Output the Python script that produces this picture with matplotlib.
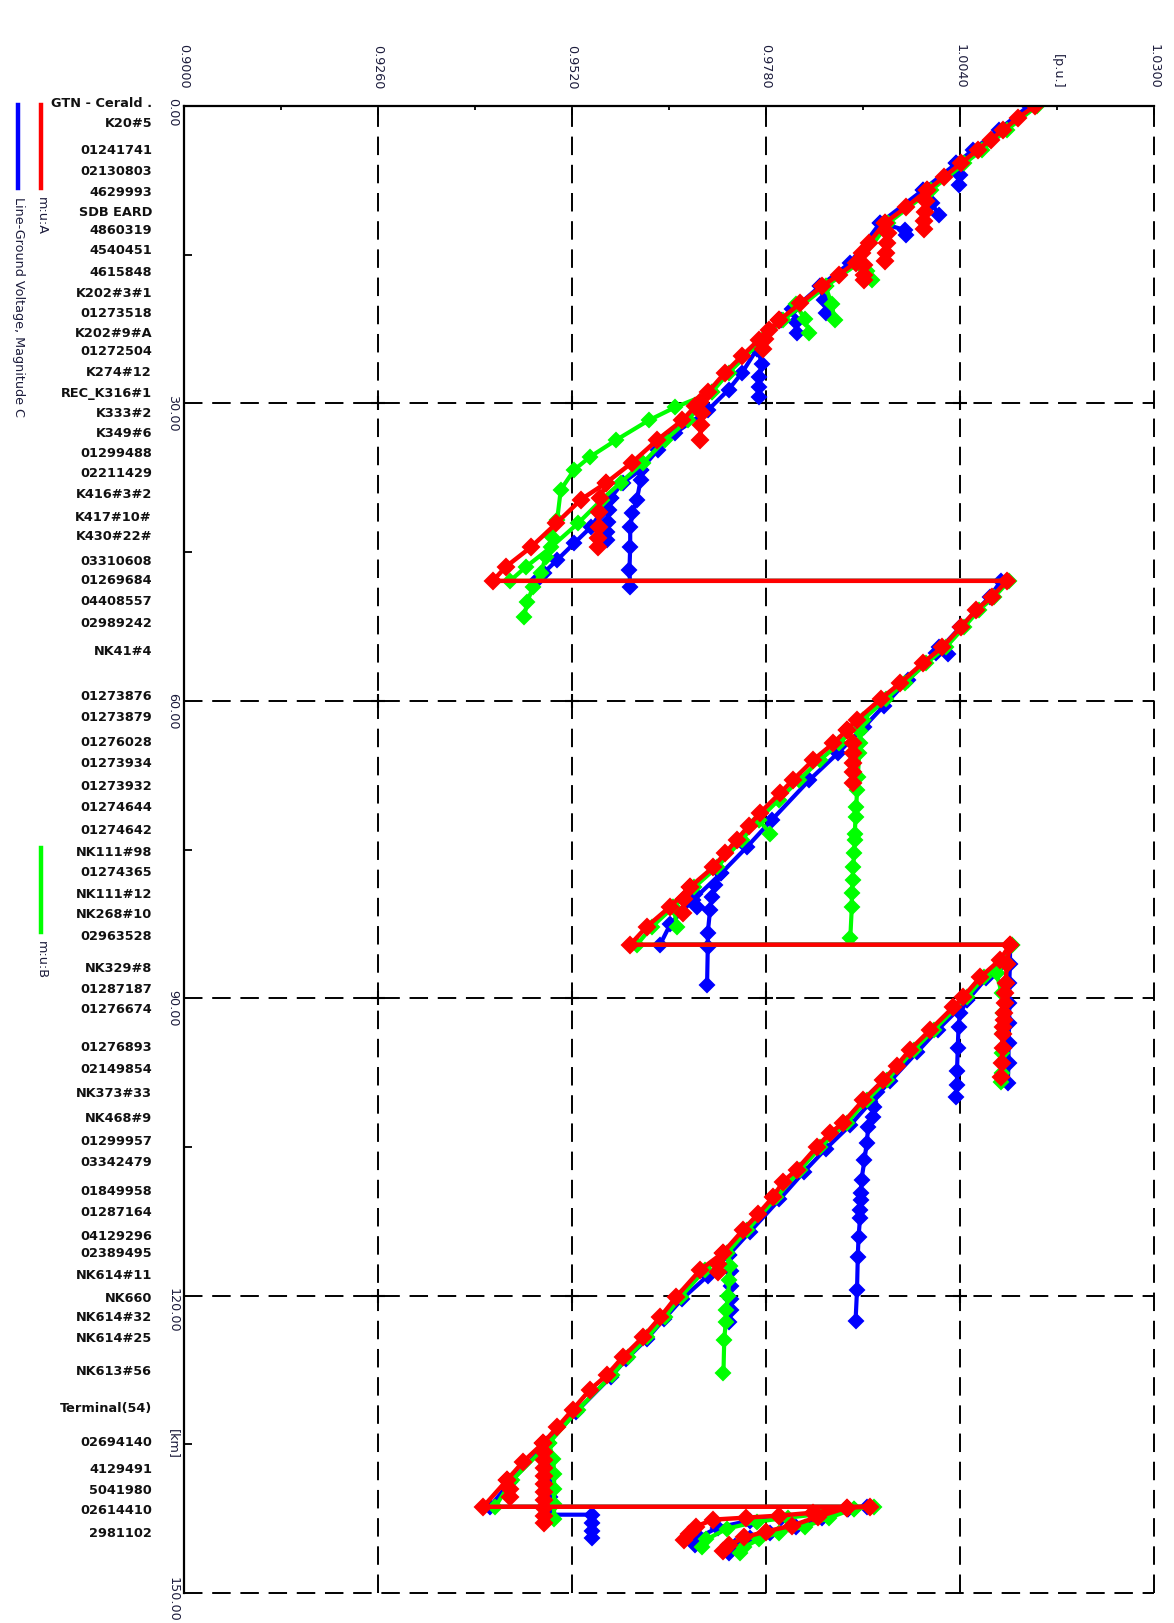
#!/usr/bin/env python3
"""
Feeder voltage profile (rotated layout): line-ground voltage per phase
against distance from the substation, with node names down the left side.
"""

import numpy as np
import matplotlib
matplotlib.use('Agg')
import matplotlib.pyplot as plt
from matplotlib.lines import Line2D


# ============================================================
# Data: trunk per phase (km, p.u.), regulators show as repeated km
# ============================================================
a_km = [0.0, 1.2, 2.4, 3.4, 4.4, 5.8, 7.2, 8.5, 10.2, 11.8, 13.8, 15.8, 17.0, 18.2, 19.9,
        21.6, 23.6, 25.2, 26.9, 28.9, 30.3, 31.7, 33.7, 36.0, 38.0, 39.7, 42.1, 44.5, 46.5, 47.9,
        47.9, 49.5, 50.8, 52.6, 54.6, 56.2, 58.2, 59.8, 61.9, 62.9, 64.3, 66.0, 68.0, 69.3, 71.3,
        72.6, 74.0, 75.4, 76.8, 78.8, 80.8, 82.8, 84.6,
        84.6, 86.1, 87.9, 89.9, 90.9, 93.2, 95.2, 96.8, 98.3, 100.3, 102.6, 103.6, 105.0, 107.3,
        108.5, 110.1, 111.8, 113.4, 115.7, 117.4, 120.1, 122.2, 124.2, 126.2, 128.0, 129.5, 131.5,
        133.3, 134.9, 136.8, 138.6, 141.3,
        141.3, 141.4, 141.9, 142.2, 142.4, 142.6, 143.3, 144.0, 144.7]
a_pu = [1.0140, 1.0118, 1.0098, 1.0081, 1.0064, 1.0041, 1.0018, 0.9996, 0.9968, 0.9939, 0.9918,
        0.9900, 0.9878, 0.9855, 0.9826, 0.9798, 0.9770, 0.9748, 0.9725, 0.9702, 0.9685, 0.9668,
        0.9634, 0.9600, 0.9566, 0.9532, 0.9499, 0.9465, 0.9431, 0.9414,
        1.0103, 1.0083, 1.0062, 1.0041, 1.0016, 0.9990, 0.9960, 0.9934, 0.9902, 0.9889, 0.9870,
        0.9843, 0.9816, 0.9799, 0.9772, 0.9757, 0.9741, 0.9725, 0.9709, 0.9678, 0.9651, 0.9620, 0.9598,
        1.0107, 1.0094, 1.0067, 1.0044, 1.0031, 1.0000, 0.9973, 0.9955, 0.9937, 0.9910, 0.9883,
        0.9866, 0.9848, 0.9821, 0.9803, 0.9789, 0.9769, 0.9749, 0.9722, 0.9692, 0.9660, 0.9638,
        0.9615, 0.9588, 0.9567, 0.9544, 0.9521, 0.9500, 0.9481, 0.9454, 0.9433, 0.9401,
        0.9919, 0.9888, 0.9843, 0.9797, 0.9753, 0.9709, 0.9686, 0.9677, 0.9670]

b_km = [0.0, 2.4, 4.4, 5.8, 8.5, 11.8, 15.8, 18.2, 21.6, 23.6, 26.9, 28.9, 31.7, 33.7, 36.0,
        38.0, 39.7, 42.1, 44.5, 46.5, 47.9,
        47.9, 49.5, 50.8, 52.6, 54.6, 56.2, 58.2, 59.8, 61.9, 64.3, 66.0, 68.0, 70.0, 72.0, 74.0,
        76.8, 78.8, 80.8, 82.8, 84.6,
        84.6, 86.1, 87.9, 89.9, 93.2, 95.2, 98.3, 100.3, 102.6, 105.0, 107.3, 110.1, 113.4, 115.7,
        117.4, 120.1, 122.2, 124.2, 126.2, 128.0, 131.5, 134.9, 138.6, 141.3,
        141.3, 141.5, 142.0, 142.4, 142.8, 143.5, 144.6, 145.4]
b_pu = [1.0143, 1.0103, 1.0070, 1.0046, 1.0001, 0.9944, 0.9905, 0.9860, 0.9803, 0.9775, 0.9730,
        0.9707, 0.9675, 0.9645, 0.9615, 0.9585, 0.9560, 0.9528, 0.9492, 0.9458, 0.9437,
        1.0106, 1.0086, 1.0066, 1.0045, 1.0021, 0.9995, 0.9966, 0.9941, 0.9910, 0.9878, 0.9852,
        0.9824, 0.9797, 0.9770, 0.9748, 0.9714, 0.9684, 0.9656, 0.9627, 0.9607,
        1.0110, 1.0099, 1.0072, 1.0049, 1.0005, 0.9978, 0.9942, 0.9915, 0.9888, 0.9853, 0.9826,
        0.9794, 0.9755, 0.9728, 0.9698, 0.9666, 0.9644, 0.9621, 0.9595, 0.9574, 0.9528, 0.9489,
        0.9440, 0.9417,
        0.9925, 0.9898, 0.9855, 0.9810, 0.9768, 0.9728, 0.9700, 0.9694]

c_km = [0.0, 2.4, 4.4, 5.8, 8.5, 11.8, 15.8, 18.2, 21.6, 24.5, 26.9, 28.6, 30.7, 33.0, 34.7,
        36.7, 38.0, 39.5, 41.1, 42.5, 44.1, 45.8, 47.1, 47.9,
        47.9, 49.5, 52.6, 55.2, 57.9, 60.5, 62.6, 65.3, 68.0, 72.0, 74.7, 77.4, 80.1, 82.5, 84.6,
        84.6, 86.3, 88.0, 90.2, 93.2, 95.4, 98.4, 100.5, 102.8, 105.2, 107.5, 110.3, 113.6, 115.9,
        118.0, 120.3, 122.4, 124.4, 126.4, 128.2, 131.7, 135.0, 138.8, 141.3,
        141.3, 141.5, 142.0, 142.4, 142.7, 143.4, 144.4, 145.2]
c_pu = [1.0132, 1.0092, 1.0058, 1.0035, 0.9990, 0.9933, 0.9893, 0.9852, 0.9800, 0.9768, 0.9748,
        0.9730, 0.9702, 0.9658, 0.9635, 0.9612, 0.9588, 0.9572, 0.9558, 0.9545, 0.9523, 0.9500,
        0.9482, 0.9472,
        1.0095, 1.0080, 1.0040, 1.0008, 0.9970, 0.9938, 0.9912, 0.9876, 0.9838, 0.9788, 0.9755,
        0.9720, 0.9682, 0.9652, 0.9638,
        1.0107, 1.0096, 1.0075, 1.0050, 1.0010, 0.9983, 0.9946, 0.9920, 0.9893, 0.9860, 0.9831,
        0.9798, 0.9758, 0.9730, 0.9702, 0.9668, 0.9643, 0.9620, 0.9593, 0.9572, 0.9526, 0.9486,
        0.9437, 0.9410,
        0.9915, 0.9890, 0.9845, 0.9800, 0.9758, 0.9715, 0.9690, 0.9685]

# laterals: (km, p.u.) starting from a trunk node
a_spurs = [
    ([8.5, 9.6, 10.7, 11.6, 12.4], [0.9996, 0.9994, 0.9993, 0.9992, 0.9992]),
    ([11.8, 12.8, 13.8, 14.8, 15.6], [0.9939, 0.9943, 0.9942, 0.9941, 0.9940]),
    ([14.8, 16.0, 17.0, 17.6], [0.9909, 0.9911, 0.9911, 0.9911]),
    ([21.6, 22.6, 23.5, 24.5], [0.9798, 0.9784, 0.9778, 0.9776]),
    ([29.9, 31.0, 32.2, 33.7], [0.9691, 0.9694, 0.9693, 0.9692]),
    ([38.0, 39.5, 41.0, 42.5, 43.6, 44.5], [0.9566, 0.9558, 0.9556, 0.9556, 0.9555, 0.9555]),
    ([62.9, 64.3, 65.3, 66.3, 67.2, 68.3], [0.9889, 0.9897, 0.9897, 0.9897, 0.9897, 0.9896]),
    ([78.8, 80.0, 81.4], [0.9678, 0.9670, 0.9669]),
    ([84.6, 86.5, 88.5, 89.5, 90.5, 91.5, 92.2, 92.9, 93.6, 95.0, 96.5, 97.9],
     [1.0107, 1.0103, 1.0101, 1.0100, 1.0100, 1.0099, 1.0099, 1.0098, 1.0098, 1.0097, 1.0096, 1.0095]),
    ([115.7, 116.8, 117.6], [0.9722, 0.9716, 0.9716]),
    ([134.9, 135.8, 136.6, 137.4, 138.2, 139.0, 139.8, 140.6, 141.4, 142.2, 142.9],
     [0.9481, 0.9483, 0.9483, 0.9483, 0.9483, 0.9483, 0.9483, 0.9483, 0.9483, 0.9483, 0.9483]),
    ([138.6, 139.5, 140.3], [0.9433, 0.9437, 0.9437]),
    ([141.4, 142.3, 143.2, 143.8, 144.4, 145.2, 145.8], [0.9888, 0.9850, 0.9815, 0.9780, 0.9750, 0.9730, 0.9722]),
]

b_spurs = [
    ([15.8, 16.6, 17.6], [0.9905, 0.9915, 0.9922]),
    ([18.2, 20.0, 21.6], [0.9860, 0.9868, 0.9872]),
    ([20.0, 21.5, 22.9], [0.9820, 0.9832, 0.9838]),
    ([28.9, 30.4, 31.7, 33.7, 35.4, 36.7, 38.7, 41.8, 43.5, 45.5, 47.1, 48.5, 50.0, 51.5],
     [0.9707, 0.9658, 0.9623, 0.9579, 0.9544, 0.9523, 0.9505, 0.9500, 0.9493, 0.9485, 0.9478,
      0.9468, 0.9460, 0.9456]),
    ([61.9, 63.0, 64.3, 65.3, 67.7, 69.0, 70.7, 71.7, 73.4, 74.0, 75.4, 76.8, 78.1, 79.4, 80.8, 83.9],
     [0.9910, 0.9906, 0.9906, 0.9905, 0.9903, 0.9902, 0.9901, 0.9900, 0.9899, 0.9899, 0.9898,
      0.9897, 0.9896, 0.9895, 0.9895, 0.9893]),
    ([72.0, 73.4], [0.9770, 0.9786]),
    ([80.8, 82.8], [0.9656, 0.9661]),
    ([84.6, 86.3, 87.5, 89.5, 91.5, 93.5, 95.5, 97.5, 98.5],
     [1.0110, 1.0095, 1.0089, 1.0096, 1.0097, 1.0097, 1.0096, 1.0096, 1.0095]),
    ([115.7, 117.0, 118.4, 120.0, 121.5, 122.7, 124.5, 127.8],
     [0.9728, 0.9732, 0.9731, 0.9729, 0.9727, 0.9726, 0.9724, 0.9723]),
    ([134.9, 136.5, 138.0, 139.5, 141.0, 142.5], [0.9489, 0.9495, 0.9496, 0.9496, 0.9496, 0.9496]),
    ([141.5, 142.4, 143.3, 143.9, 144.6, 145.4, 146.0], [0.9898, 0.9865, 0.9832, 0.9797, 0.9770, 0.9750, 0.9745]),
]

c_spurs = [
    ([5.8, 7.0, 8.0], [1.0035, 1.0040, 1.0038]),
    ([8.5, 9.8, 11.0], [0.9990, 1.0002, 1.0012]),
    ([11.8, 12.5, 13.0], [0.9933, 0.9966, 0.9968]),
    ([18.2, 19.6, 20.9], [0.9852, 0.9858, 0.9860]),
    ([20.5, 21.8, 22.9], [0.9815, 0.9820, 0.9822]),
    ([24.5, 26.0, 27.3, 28.3, 29.4], [0.9768, 0.9775, 0.9771, 0.9770, 0.9770]),
    ([36.7, 37.7, 39.7, 41.1, 42.5, 44.5, 46.8, 48.5],
     [0.9612, 0.9612, 0.9607, 0.9601, 0.9598, 0.9598, 0.9597, 0.9598]),
    ([39.5, 40.8, 42.0, 43.0, 43.8], [0.9572, 0.9570, 0.9568, 0.9567, 0.9567]),
    ([54.6, 55.3], [1.0012, 1.0024]),
    ([77.4, 78.6, 79.8, 81.1, 83.4, 84.8, 88.7], [0.9720, 0.9712, 0.9707, 0.9705, 0.9702, 0.9702, 0.9701]),
    ([79.5, 80.8], [0.9685, 0.9688]),
    ([84.6, 86.5, 88.5, 90.5, 92.5, 94.5, 96.5, 98.6],
     [1.0107, 1.0107, 1.0106, 1.0106, 1.0106, 1.0105, 1.0105, 1.0104]),
    ([90.2, 91.5, 92.9, 95.0, 97.3, 98.8, 100.0], [1.0050, 1.0040, 1.0038, 1.0037, 1.0036, 1.0036, 1.0035]),
    ([99.5, 101.0, 102.0, 103.0, 104.6, 106.3, 108.3, 109.7, 110.4, 111.4, 112.2, 114.1, 116.1, 119.4, 122.6],
     [0.9929, 0.9925, 0.9923, 0.9917, 0.9915, 0.9912, 0.9908, 0.9907, 0.9907, 0.9906, 0.9906,
      0.9904, 0.9903, 0.9902, 0.9900]),
    ([115.9, 117.5, 119.0, 120.3, 121.5, 122.7], [0.9730, 0.9733, 0.9733, 0.9733, 0.9733, 0.9731]),
    ([135.0, 136.5, 138.3, 140.3, 142.1, 142.1, 142.9, 143.7, 144.5],
     [0.9486, 0.9490, 0.9490, 0.9490, 0.9490, 0.9547, 0.9547, 0.9547, 0.9547]),
    ([141.5, 142.4, 143.3, 143.9, 144.5, 145.3, 146.0], [0.9890, 0.9855, 0.9820, 0.9786, 0.9758, 0.9738, 0.9730]),
]

# node names and their distance [km]
node_names = ['GTN - Cerald .', 'K20#5', '01241741', '02130803', '4629993', 'SDB EARD',
              '4860319', '4540451', '4615848', 'K202#3#1', '01273518', 'K202#9#A', '01272504',
              'K274#12', 'REC_K316#1', 'K333#2', 'K349#6', '01299488', '02211429', 'K416#3#2',
              'K417#10#', 'K430#22#', '03310608', '01269684', '04408557', '02989242', 'NK41#4',
              '01273876', '01273879', '01276028', '01273934', '01273932', '01274644', '01274642',
              'NK111#98', '01274365', 'NK111#12', 'NK268#10', '02963528', 'NK329#8', '01287187',
              '01276674', '01276893', '02149854', 'NK373#33', 'NK468#9', '01299957', '03342479',
              '01849958', '01287164', '04129296', '02389495', 'NK614#11', 'NK660', 'NK614#32',
              'NK614#25', 'NK613#56', 'Terminal(54)', '02694140', '4129491', '5041980',
              '02614410', '2981102']
node_km = [-0.3, 1.8, 4.5, 6.6, 8.7, 10.7, 12.6, 14.6, 16.8, 18.9, 20.9, 22.9, 24.8, 26.9,
           29.0, 31.0, 33.0, 35.1, 37.1, 39.2, 41.5, 43.4, 45.9, 47.9, 50.0, 52.2, 55.0, 59.6,
           61.7, 64.2, 66.3, 68.6, 70.8, 73.1, 75.3, 77.3, 79.5, 81.6, 83.8, 87.0, 89.1, 91.1,
           95.0, 97.2, 99.6, 102.1, 104.5, 106.6, 109.5, 111.6, 114.0, 115.8, 118.0, 120.3,
           122.2, 124.3, 127.7, 131.4, 134.8, 137.5, 139.7, 141.7, 144.0]

x_major = [0.9000, 0.9260, 0.9520, 0.9780, 1.0040, 1.0300]
x_minor = [0.9130, 0.9390, 0.9650, 0.9910, 1.0170]
y_major = [0.0, 30.0, 60.0, 90.0, 120.0, 150.0]
y_minor = [15.0, 45.0, 75.0, 105.0, 135.0]

RED, GREEN, BLUE = '#ff0000', '#00ff00', '#0000ff'


# ============================================================
# Plot
# ============================================================
W, H = 1174, 1623
fig = plt.figure(figsize=(W / 100, H / 100), dpi=100)
ax = fig.add_axes([184 / W, 1 - 1593 / H, (1154 - 184) / W, (1593 - 106) / H])
ax.set_xlim(0.9, 1.03)
ax.set_ylim(150, 0)

TXT = '#1c1c3c'


def draw_phase(km, pu, spurs, color, lw, ms, z):
    kw = dict(color=color, lw=lw, marker='D', ms=ms, mec=color, mfc=color, mew=1.5,
              solid_joinstyle='round', solid_capstyle='round', zorder=z)
    for s_km, s_pu in spurs:
        ax.plot(s_pu, s_km, **kw)
    ax.plot(pu, km, **kw)


draw_phase(c_km, c_pu, c_spurs, BLUE, 3.0, 7.0, 3)
draw_phase(b_km, b_pu, b_spurs, GREEN, 3.0, 7.2, 4)
draw_phase(a_km, a_pu, a_spurs, RED, 3.2, 8.0, 5)

# axes / grid
ax.xaxis.tick_top()
ax.set_xticks(x_major)
ax.set_xticks(x_minor, minor=True)
ax.set_xticklabels([f'{v:.4f}' for v in x_major], rotation=-90, fontsize=9.2, color=TXT)
ax.set_xticklabels(['', '', '', '', '[p.u.]'], minor=True, rotation=-90, fontsize=9.2, color=TXT)
ax.set_yticks(y_major)
ax.set_yticks(y_minor, minor=True)
ax.tick_params(axis='x', which='both', direction='in', pad=12.2, width=1.3)
ax.tick_params(axis='x', which='major', length=6.5)
ax.tick_params(axis='x', which='minor', length=3)
ax.tick_params(axis='y', which='both', direction='in', labelleft=False, width=1.3)
ax.tick_params(axis='y', which='minor', length=5.8)
ax.tick_params(axis='y', which='major', length=0)

ax.grid(True, which='major', color='black', lw=1.4, ls=(0, (9.5, 5)))
for gl in ax.get_xgridlines() + ax.get_ygridlines():
    gl.set_clip_on(False)
for side in ['right', 'bottom']:
    ax.spines[side].set_visible(False)
for side in ['left', 'top']:
    ax.spines[side].set_linewidth(1.6)
    ax.spines[side].set_zorder(6)

# small crosses where the grid lines meet
gx, gy = np.meshgrid(x_major[1:-1], y_major[1:-1])
ax.plot(gx.ravel(), gy.ravel(), ls='none', marker='+', ms=10, mew=1.5, color='black', zorder=1.6)

# distance tick labels, rotated (the last one is lifted to stay on the page)
for v in y_major:
    lift = 16 if v == y_major[-1] else 8
    ax.annotate(f'{v:.2f}', xy=(0, v), xycoords=('axes fraction', 'data'),
                xytext=(-11, lift), textcoords='offset pixels', rotation=-90,
                ha='center', va='top', fontsize=9.2, color=TXT, annotation_clip=False)
ax.annotate('[km]', xy=(0, y_minor[-1]), xycoords=('axes fraction', 'data'),
            xytext=(-11, 0), textcoords='offset pixels', rotation=-90,
            ha='center', va='center', fontsize=9.2, color=TXT, annotation_clip=False)

# node names
for name, km in zip(node_names, node_km):
    ax.annotate(name, xy=(0, km), xycoords=('axes fraction', 'data'),
                xytext=(-32, 0), textcoords='offset pixels', ha='right', va='center',
                fontsize=9.3, fontweight='bold', color='#111111', annotation_clip=False)

# legend keys at the far left
legend_items = [(18, 105, 188, BLUE, 'Line-Ground Voltage, Magnitude C'),
                (41, 105, 188, RED, 'm:u:A'),
                (41, 848, 932, GREEN, 'm:u:B')]
for x, y0, y1, color, label in legend_items:
    fig.add_artist(Line2D([x / W, x / W], [1 - y0 / H, 1 - y1 / H],
                          transform=fig.transFigure, color=color, lw=3.2))
    fig.text(x / W, 1 - (y1 + 9) / H, label, rotation=-90, ha='center', va='top',
             fontsize=9.2, color=TXT)

fig.savefig('out.png', dpi=100)
